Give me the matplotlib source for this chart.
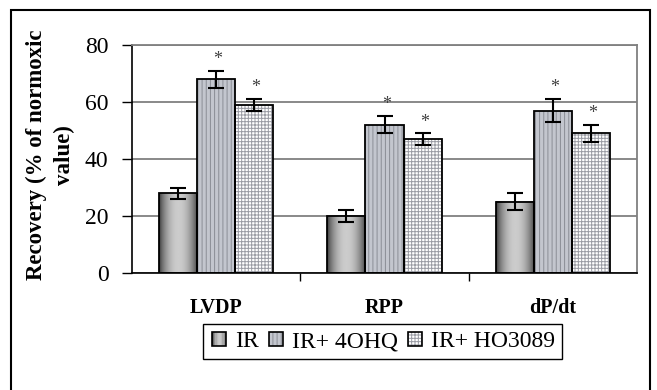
import matplotlib.pyplot as plt
import numpy as np
from matplotlib.patches import Rectangle
from matplotlib.legend_handler import HandlerBase

plt.rcParams['font.family'] = ['Liberation Serif', 'DejaVu Serif']
plt.rcParams['hatch.linewidth'] = 0.7

categories = ['LVDP', 'RPP', 'dP/dt']
series = ['IR', 'IR+ 4OHQ', 'IR+ HO3089']
ir = [28, 20, 25]
ir_err = [2, 2, 3]
ohq = [68, 52, 57]
ohq_err = [3, 3, 4]
ho = [59, 47, 49]
ho_err = [2, 2, 3]
yticks = [0, 20, 40, 60, 80]

# dark edges, light middle, like the excel "cylinder" fill
grad = 0.2 + 0.6 * np.sin(np.pi * np.linspace(0, 1, 80)) ** 0.7
grad = grad.reshape(1, -1)


class GradHandler(HandlerBase):
    def create_artists(self, legend, orig_handle, xdescent, ydescent,
                       width, height, fontsize, trans):
        s = height * 0.85
        x0 = xdescent + (width - s) / 2
        y0 = -ydescent + (height - s) / 2
        arts = []
        n = 12
        for i in range(n):
            g = grad[0, int(i / n * grad.shape[1])]
            arts.append(Rectangle((x0 + i * s / n, y0), s / n + 0.3, s,
                                  facecolor=str(g), edgecolor='none', transform=trans))
        arts.append(Rectangle((x0, y0), s, s, fill=False, edgecolor='black',
                              linewidth=1.2, transform=trans))
        return arts


class SquareHandler(HandlerBase):
    def __init__(self, face, hatch, hcolor):
        super().__init__()
        self.face, self.hatch, self.hcolor = face, hatch, hcolor

    def create_artists(self, legend, orig_handle, xdescent, ydescent,
                       width, height, fontsize, trans):
        s = height * 0.85
        x0 = xdescent + (width - s) / 2
        y0 = -ydescent + (height - s) / 2
        a = Rectangle((x0, y0), s, s, facecolor=self.face, edgecolor=self.hcolor,
                      hatch=self.hatch, linewidth=0, transform=trans)
        b = Rectangle((x0, y0), s, s, fill=False, edgecolor='black',
                      linewidth=1.2, transform=trans)
        return [a, b]


fig = plt.figure(figsize=(6.57, 3.9), dpi=100)
ax = fig.add_axes([0.2009, 0.3, 0.7687, 0.5846])

x = np.arange(len(categories))
w = 0.226

for xi, v in zip(x - w, ir):
    ax.imshow(grad, cmap='gray', vmin=0, vmax=1, aspect='auto',
              extent=[xi - w / 2, xi + w / 2, 0, v], zorder=2)
b1 = ax.bar(x - w, ir, w, fill=False, edgecolor='black', linewidth=1.3, zorder=3)

ax.bar(x, ohq, w, color='#c3c6ce', edgecolor='#8a8d95', hatch='||||',
       linewidth=0, zorder=2)
b2 = ax.bar(x, ohq, w, fill=False, edgecolor='black', linewidth=1.3, zorder=3)

ax.bar(x + w, ho, w, color='white', edgecolor='#9a9ca4', hatch='+++++',
       linewidth=0, zorder=2)
b3 = ax.bar(x + w, ho, w, fill=False, edgecolor='black', linewidth=1.3, zorder=3)

for xs, vals, errs in [(x - w, ir, ir_err), (x, ohq, ohq_err), (x + w, ho, ho_err)]:
    ax.errorbar(xs, vals, yerr=errs, fmt='none', ecolor='black', capsize=6,
                elinewidth=1.5, capthick=1.5, zorder=4)

for xs, vals, errs in [(x, ohq, ohq_err), (x + w, ho, ho_err)]:
    for xi, v, e in zip(xs, vals, errs):
        ax.text(xi + 0.01, v + e + 1.0, '*', ha='center', va='bottom',
                fontsize=13, color='#404040', zorder=5)

ax.set_xlim(-0.5, 2.5)
ax.set_ylim(0, 80)
ax.set_yticks(yticks)
ax.yaxis.grid(True, color='#808080', linewidth=1.3)
ax.set_axisbelow(True)
ax.tick_params(axis='y', labelsize=17, length=7, pad=10, width=1)

ax.set_xticks([0.5, 1.5])
ax.set_xticklabels([])
ax.set_xticks(x, minor=True)
ax.set_xticklabels(categories, minor=True, fontsize=14.5, fontweight='bold')
ax.tick_params(axis='x', which='major', length=6, width=1)
ax.tick_params(axis='x', which='minor', length=0, pad=18)

for s in ['top', 'right']:
    ax.spines[s].set_color('#808080')
    ax.spines[s].set_linewidth(1.3)
for s in ['left', 'bottom']:
    ax.spines[s].set_linewidth(1.2)

ax.set_ylabel('Recovery (% of normoxic\nvalue)', fontsize=16.5, fontweight='bold',
              multialignment='center', linespacing=1.4)
ax.yaxis.set_label_coords(-0.113, 0.517)

leg = fig.legend([b1, b2, b3], series, loc='center', bbox_to_anchor=(0.582, 0.124),
                 ncol=3, fontsize=17, frameon=True, fancybox=False, framealpha=1,
                 edgecolor='black', handlelength=0.75, handletextpad=0.3,
                 columnspacing=0.35, borderpad=0.3, borderaxespad=0,
                 handler_map={b1: GradHandler(),
                              b2: SquareHandler('#c3c6ce', '||||', '#8a8d95'),
                              b3: SquareHandler('white', '+++++', '#9a9ca4')})
leg.get_frame().set_linewidth(1.0)

# outer chart-area border
fig.patches.append(Rectangle((11 / 657, -0.05), 639 / 657, 1.05 - 10 / 390,
                             transform=fig.transFigure, fill=False,
                             edgecolor='black', linewidth=1.5))

fig.savefig('out.png', dpi=100)
